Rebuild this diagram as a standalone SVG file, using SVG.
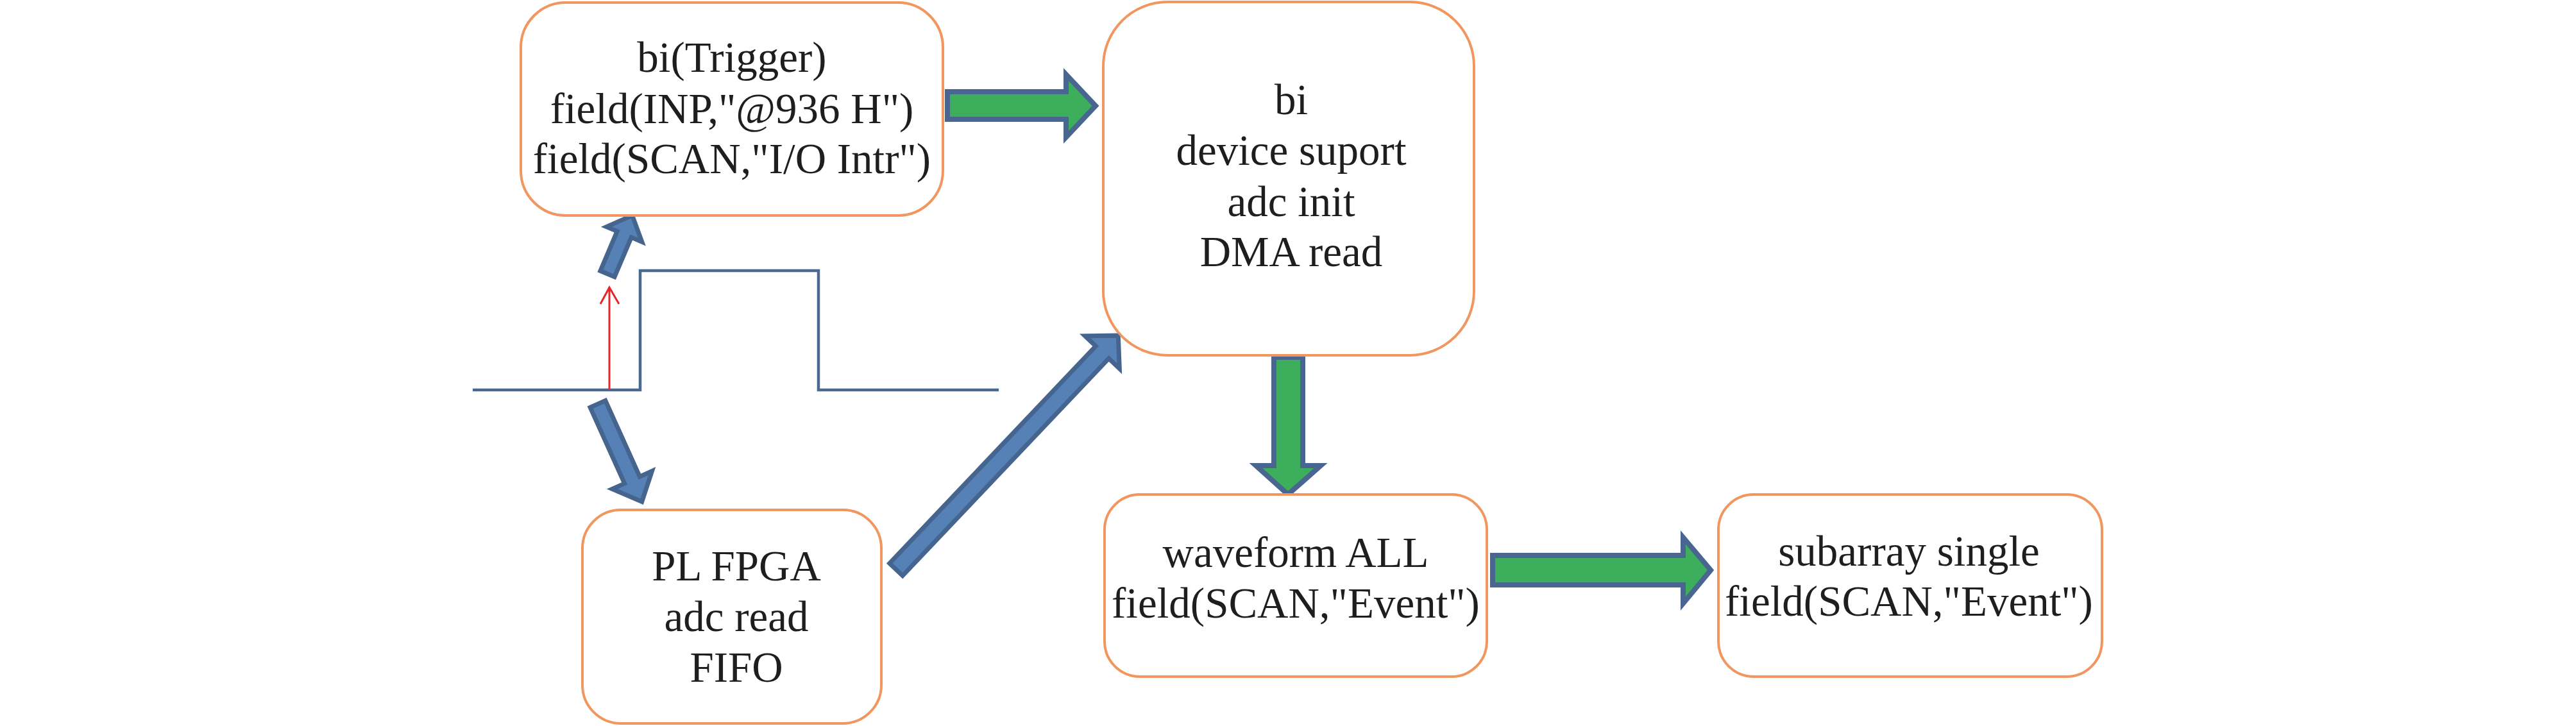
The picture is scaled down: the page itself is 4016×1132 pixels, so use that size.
<svg xmlns="http://www.w3.org/2000/svg" width="4016" height="1132" viewBox="0 0 4016 1132">
<defs>
<style>
.box{fill:#fff;stroke:#f0965e;stroke-width:4}
.t{font-family:"Liberation Serif","Times New Roman",serif;font-size:67px;fill:#1e1e1e;text-anchor:middle}
.g{fill:#3dae5c;stroke:#48668f;stroke-width:8;stroke-linejoin:miter;stroke-miterlimit:10}
.b{fill:#5581b6;stroke:#45658f;stroke-width:7;stroke-linejoin:miter;stroke-miterlimit:10}
.pulse{fill:none;stroke:#4a6890;stroke-width:4.5}
.red{fill:none;stroke:#e8262a;stroke-width:3}
</style>
</defs>
<rect width="4016" height="1132" fill="#fff"/>
<g id="pulse">
<polyline class="pulse" points="737,608 998,608 998,422 1276,422 1276,608 1557,608"/>
<path class="red" d="M950,608 V448 M936,474 L950,448 L965,474"/>
</g>
<g id="connectors">
<polygon class="g" points="1477,143 1662,143 1662,116 1708,165 1662,214 1662,186 1477,186"/>
<polygon class="g" points="1986,557 2031,557 2031,726 2059,726 2008,771 1958,726 1986,726"/>
<polygon class="g" points="2327,866 2624,866 2624,838 2667,889 2624,941 2624,912 2327,912"/>
<polygon class="b" transform="translate(947,427) rotate(-67)" points="0,-12 67,-12 67,-30 99,0 67,30 67,12 0,12"/>
<polygon class="b" transform="translate(932,630) rotate(65.7)" points="0,-13 130,-13 130,-34 167,0 130,34 130,13 0,13"/>
<polygon class="b" transform="translate(1397,888) rotate(-46.5)" points="0,-14 467,-14 467,-37 503,0 467,37 467,14 0,14"/>
</g>
<g id="node-bi-trigger">
<rect class="box" x="812" y="4" width="658" height="332" rx="70"/>
<text class="t" x="1141" y="112">bi(Trigger)</text>
<text class="t" x="1141" y="192">field(INP,"@936 H")</text>
<text class="t" x="1141" y="270">field(SCAN,"I/O Intr")</text>
</g>
<g id="node-bi-device">
<rect class="box" x="1720" y="3" width="578" height="551" rx="100"/>
<text class="t" x="2013" y="178">bi</text>
<text class="t" x="2013" y="257">device suport</text>
<text class="t" x="2013" y="337">adc init</text>
<text class="t" x="2013" y="415">DMA read</text>
</g>
<g id="node-pl-fpga">
<rect class="box" x="908" y="795" width="466" height="333" rx="60"/>
<text class="t" x="1148" y="905">PL FPGA</text>
<text class="t" x="1148" y="984">adc read</text>
<text class="t" x="1148" y="1063">FIFO</text>
</g>
<g id="node-waveform">
<rect class="box" x="1722" y="771" width="596" height="284" rx="55"/>
<text class="t" x="2020" y="884">waveform ALL</text>
<text class="t" x="2020" y="963">field(SCAN,"Event")</text>
</g>
<g id="node-subarray">
<rect class="box" x="2679" y="771" width="598" height="284" rx="55"/>
<text class="t" x="2976" y="882">subarray single</text>
<text class="t" x="2976" y="960">field(SCAN,"Event")</text>
</g>
</svg>
